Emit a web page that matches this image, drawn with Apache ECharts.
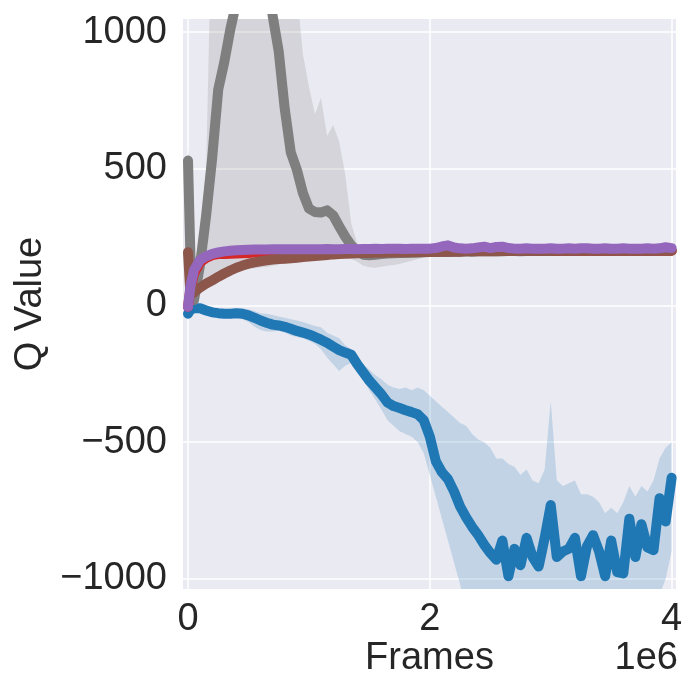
<!DOCTYPE html>
<html>
<head>
<meta charset="utf-8">
<script src="https://cdn.jsdelivr.net/npm/echarts@6/dist/echarts.min.js"></script>
<style>html,body{margin:0;padding:0;background:#fff}#c{width:700px;height:700px}</style>
</head>
<body>
<div id="c"></div>
<script>
// Frames in units of 1e6
const FRAMES_M = [0, 0.02, 0.05, 0.10, 0.15, 0.20, 0.25, 0.30, 0.35, 0.40,
  0.45, 0.50, 0.55, 0.60, 0.65, 0.70, 0.75, 0.80, 0.85, 0.90,
  0.95, 1.00, 1.05, 1.10, 1.15, 1.20, 1.25, 1.30, 1.35, 1.40,
  1.45, 1.50, 1.55, 1.60, 1.65, 1.70, 1.75, 1.80, 1.85, 1.90,
  1.95, 2.00, 2.05, 2.10, 2.15, 2.20, 2.25, 2.30, 2.35, 2.40,
  2.45, 2.50, 2.55, 2.60, 2.65, 2.70, 2.75, 2.80, 2.85, 2.90,
  2.95, 3.00, 3.05, 3.10, 3.15, 3.20, 3.25, 3.30, 3.35, 3.40,
  3.45, 3.50, 3.55, 3.60, 3.65, 3.70, 3.75, 3.80, 3.85, 3.90,
  3.95, 4.00];

const X_TICKS = [0, 2, 4];
const Y_TICKS = [-1000, -500, 0, 500, 1000];

const GRAY_MEAN = [530, 180, 20, 150, 330, 540, 790, 890, 1010, 1110,
  1220, 1300, 1340, 1310, 1250, 1060, 930, 720, 560, 497,
  412, 355, 342, 340, 348, 330, 290, 252, 220, 198,
  186, 184, 186, 188, 190, 191, 192, 192, 193, 194,
  195, 196, 196, 197, 196, 197, 197, 198, 197, 198,
  198, 198, 199, 198, 199, 199, 198, 199, 199, 199,
  199, 200, 199, 200, 200, 199, 200, 200, 200, 200,
  200, 200, 200, 200, 201, 200, 200, 201, 200, 201,
  201, 201];
const GRAY_HI = [580, 450, 150, 250, 500, 1500, 1500, 1500, 1500, 1500,
  1500, 1500, 1500, 1500, 1500, 1500, 1500, 1500, 1500, 1150,
  920, 800, 700, 760, 620, 660, 600, 480, 300, 228,
  214, 210, 208, 208, 207, 207, 207, 207, 207, 207,
  207, 207, 207, 207, 207, 207, 207, 207, 207, 207,
  207, 207, 207, 207, 207, 207, 207, 207, 207, 207,
  207, 207, 207, 207, 207, 207, 207, 207, 207, 207,
  207, 207, 207, 207, 207, 207, 207, 207, 207, 207,
  207, 207];
const GRAY_LO = [470, 0, -20, 60, 100, 115, 120, 125, 125, 130,
  130, 135, 135, 140, 140, 145, 150, 155, 160, 168,
  172, 176, 178, 178, 178, 178, 176, 174, 170, 160,
  145, 140, 138, 142, 145, 148, 152, 158, 164, 170,
  176, 180, 183, 185, 186, 187, 187, 188, 188, 188,
  188, 188, 188, 188, 188, 188, 188, 188, 188, 188,
  188, 188, 188, 188, 188, 188, 188, 188, 188, 188,
  188, 188, 188, 188, 188, 188, 188, 188, 188, 188,
  188, 188];

const RED_MEAN = [-5, 60, 118, 158, 174, 184, 188, 188, 189, 190,
  191, 192, 194, 196, 197, 197, 198, 198, 198, 199,
  199, 200, 200, 200, 200, 200, 200, 200, 200, 200,
  200, 200, 200, 200, 200, 200, 200, 200, 200, 200,
  200, 200, 200, 200, 200, 200, 200, 200, 200, 200,
  200, 200, 200, 200, 200, 200, 200, 200, 200, 200,
  200, 200, 200, 200, 200, 200, 200, 200, 200, 200,
  200, 200, 200, 200, 200, 200, 200, 200, 200, 200,
  200, 200];

const BROWN_MEAN = [195, 40, 48, 66, 80, 92, 105, 117, 128, 138,
  146, 153, 158, 162, 165, 168, 170, 171, 173, 175,
  177, 179, 181, 183, 185, 187, 188, 189, 190, 191,
  192, 192, 193, 193, 194, 194, 194, 195, 195, 195,
  196, 196, 196, 197, 197, 197, 197, 198, 198, 198,
  198, 198, 198, 199, 199, 199, 199, 199, 199, 199,
  199, 199, 200, 200, 200, 200, 200, 200, 200, 200,
  200, 200, 200, 200, 200, 200, 200, 200, 200, 200,
  200, 200];

const PURPLE_MEAN = [-5, 70, 130, 166, 180, 189, 194, 198, 200, 202,
  203, 204, 205, 205, 205, 206, 206, 206, 206, 206,
  206, 206, 206, 206, 207, 206, 206, 207, 207, 206,
  207, 207, 208, 207, 208, 208, 208, 207, 208, 208,
  208, 208, 210, 216, 220, 212, 209, 208, 209, 212,
  215, 210, 214, 215, 210, 208, 208, 209, 208, 208,
  208, 209, 208, 208, 209, 208, 209, 209, 208, 208,
  209, 208, 208, 209, 208, 208, 208, 209, 208, 209,
  213, 210];

const BLUE_MEAN = [-30, -15, -10, -10, -18, -25, -28, -30, -30, -28,
  -30, -36, -45, -55, -63, -70, -73, -78, -85, -93,
  -99, -106, -115, -125, -136, -150, -163, -172, -180, -215,
  -245, -275, -300, -325, -355, -368, -375, -383, -390, -398,
  -420, -480, -570, -610, -635, -680, -735, -775, -810, -840,
  -875, -905, -930, -860, -990, -890, -950, -850, -920, -955,
  -850, -730, -920, -900, -890, -850, -990, -880, -840, -900,
  -990, -860, -975, -980, -780, -920, -800, -885, -895, -705,
  -790, -630];
const BLUE_HI = [-18, -3, 2, 0, -8, -14, -16, -18, -15, -12,
  -10, -14, -20, -28, -30, -35, -40, -45, -50, -55,
  -60, -68, -75, -80, -100, -110, -120, -145, -160, -190,
  -215, -235, -255, -270, -290, -300, -305, -300, -310, -300,
  -310, -330, -350, -370, -390, -410, -430, -440, -470, -490,
  -500, -520, -560, -560, -580, -590, -620, -600, -640, -650,
  -600, -350, -640, -660, -650, -640, -690, -690, -700, -720,
  -760, -740, -760, -720, -660, -700, -660, -680, -640, -560,
  -520, -500];
const BLUE_LO = [-42, -27, -22, -22, -30, -36, -40, -44, -45, -44,
  -50, -60, -78, -90, -95, -95, -92, -100, -110, -115,
  -120, -130, -140, -160, -190, -215, -240, -220, -210, -240,
  -275, -310, -345, -380, -420, -440, -460, -470, -480, -500,
  -540, -620, -700, -780, -860, -940, -1020, -1100, -1200, -1200,
  -1200, -1200, -1200, -1200, -1200, -1200, -1200, -1200, -1200, -1200,
  -1200, -1200, -1200, -1200, -1200, -1200, -1200, -1200, -1200, -1200,
  -1200, -1200, -1200, -1200, -1150, -1200, -1150, -1200, -1150, -1060,
  -1000, -900];

const COLORS = { blue: '#1f77b4', gray: '#7f7f7f', red: '#d62728', brown: '#8c564b', purple: '#9467bd' };

function pairs(xs, ys) { return xs.map((x, i) => [x, ys[i]]); }

const FONT = 'Liberation Sans, Arial, sans-serif';
const TXT = '#262626';
const FS = 38;

function band(id, lo, hi, color) {
  return {
    type: 'custom', id: id, clip: true, silent: true, z: 1,
    data: [[0, 0]],
    renderItem: function (params, api) {
      const pts = [];
      for (let i = 0; i < FRAMES_M.length; i++) pts.push(api.coord([FRAMES_M[i], hi[i]]));
      for (let i = FRAMES_M.length - 1; i >= 0; i--) pts.push(api.coord([FRAMES_M[i], lo[i]]));
      return { type: 'polygon', shape: { points: pts }, style: { fill: color } };
    }
  };
}
function line(id, ys, color, w) {
  return { type: 'line', id: id, data: pairs(FRAMES_M, ys), symbol: 'none', z: 2,
    lineStyle: { color: color, width: w, cap: 'round', join: 'round' } };
}

const chart = echarts.init(document.getElementById('c'), null, { renderer: 'canvas' });
chart.setOption({
  animation: false,
  backgroundColor: '#ffffff',
  grid: { left: 183, right: 24, top: 19, bottom: 111, show: true, backgroundColor: '#EAEAF2', borderWidth: 0 },
  xAxis: {
    type: 'value', min: -0.0414, max: 4.036,
    axisLine: { show: false },
    axisTick: { show: false, customValues: X_TICKS },
    axisLabel: { customValues: X_TICKS, formatter: v => String(v), fontSize: FS, color: TXT, fontFamily: FONT, margin: 12 },
    splitLine: { show: true, lineStyle: { color: '#ffffff', width: 1.5 } },
    name: 'Frames', nameLocation: 'middle', nameGap: 51, nameMoveOverlap: false,
    nameTextStyle: { fontSize: FS, color: TXT, fontFamily: FONT }
  },
  yAxis: {
    type: 'value', min: -1037, max: 1048,
    axisLine: { show: false },
    axisTick: { show: false, customValues: Y_TICKS },
    axisLabel: { customValues: Y_TICKS, formatter: v => (v < 0 ? '\u2212' + Math.abs(v) : String(v)), fontSize: FS, color: TXT, fontFamily: FONT, margin: 16 },
    splitLine: { show: true, lineStyle: { color: '#ffffff', width: 1.5 } },
    name: 'Q Value', nameLocation: 'middle', nameGap: 133, nameMoveOverlap: false,
    nameTextStyle: { fontSize: FS, color: TXT, fontFamily: FONT }
  },
  graphic: [
    { type: 'text', right: 22, top: 640, style: { text: '1e6', fontSize: FS, fill: TXT, fontFamily: FONT } }
  ],
  series: [
    band('blueBand', BLUE_LO, BLUE_HI, 'rgba(31,119,180,0.2)'),
    band('grayBand', GRAY_LO, GRAY_HI, 'rgba(127,127,127,0.2)'),
    line('blue', BLUE_MEAN, COLORS.blue, 10),
    line('gray', GRAY_MEAN, COLORS.gray, 10),
    line('red', RED_MEAN, COLORS.red, 10),
    line('brown', BROWN_MEAN, COLORS.brown, 10),
    line('purple', PURPLE_MEAN, COLORS.purple, 10)
  ]
});
</script>
</body>
</html>
